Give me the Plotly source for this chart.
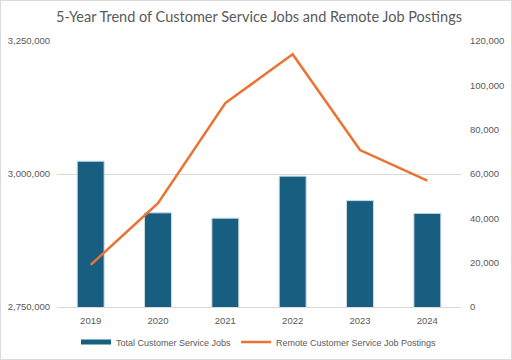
import plotly.graph_objects as go

years = ["2019", "2020", "2021", "2022", "2023", "2024"]
total_jobs = [3024000, 2927000, 2917000, 2996000, 2950000, 2926000]
remote_postings = [19000, 46800, 92000, 114000, 70800, 57000]

bar_color = "#175E80"
line_color = "#ED7131"
text_color = "#595959"

fig = go.Figure()
fig.add_trace(go.Bar(
    x=years, y=total_jobs, name="Total Customer Service Jobs",
    marker=dict(color=bar_color, line=dict(color="#C9DCE6", width=1)),
    width=0.4, yaxis="y", showlegend=False,
))
# legend proxy so the bar key is drawn as a wide flat rectangle like the original
fig.add_trace(go.Scatter(
    x=[None], y=[None], name="Total Customer Service Jobs",
    mode="lines", line=dict(color=bar_color, width=5), yaxis="y",
))
fig.add_trace(go.Scatter(
    x=years, y=remote_postings, name="Remote Customer Service Job Postings",
    mode="lines", line=dict(color=line_color, width=2.5), yaxis="y2",
))

font_main = "Liberation Sans, Arial, sans-serif"
tick_font = dict(family=font_main, size=9.5, color=text_color)
fig.update_layout(
    width=512, height=360,
    margin=dict(l=57, r=51, t=41, b=53, autoexpand=False),
    paper_bgcolor="white", plot_bgcolor="white",
    title=dict(text="5-Year Trend of Customer Service Jobs and Remote Job Postings",
               x=0.5, xanchor="center", xref="paper", y=1 - 17 / 360, yanchor="middle",
               font=dict(family="Lato, Open Sans, sans-serif", size=14.5, color=text_color)),
    xaxis=dict(type="category", showgrid=False, showline=True, linecolor="#D9D9D9",
               ticks="", tickfont=tick_font, ticklabelstandoff=5),
    yaxis=dict(range=[2750000, 3250000], dtick=250000, tickformat=",",
               showgrid=True, gridcolor="#D9D9D9", zeroline=False,
               ticks="", tickfont=tick_font, ticklabelstandoff=6),
    yaxis2=dict(range=[0, 120000], dtick=20000, tickformat=",", overlaying="y",
                side="right", showgrid=False, zeroline=False,
                ticks="", tickfont=tick_font, ticklabelstandoff=8),
    legend=dict(orientation="h", x=0.5, xanchor="center", xref="paper",
                y=1 - 342 / 360, yanchor="middle", yref="container",
                itemwidth=30, tracegroupgap=0,
                font=dict(family=font_main, size=9, color=text_color)),
    shapes=[dict(type="rect", xref="paper", yref="paper",
                 x0=(0.5 - 57) / 404, x1=(511.5 - 57) / 404,
                 y0=(307 - 359.5) / 266, y1=(307 - 0.5) / 266,
                 line=dict(color="#D9D9D9", width=1))],
)

fig.write_html("out.html", config={"displayModeBar": False},
               post_script="document.body.style.margin='0px';document.body.style.padding='0px';document.body.style.overflow='hidden';")
